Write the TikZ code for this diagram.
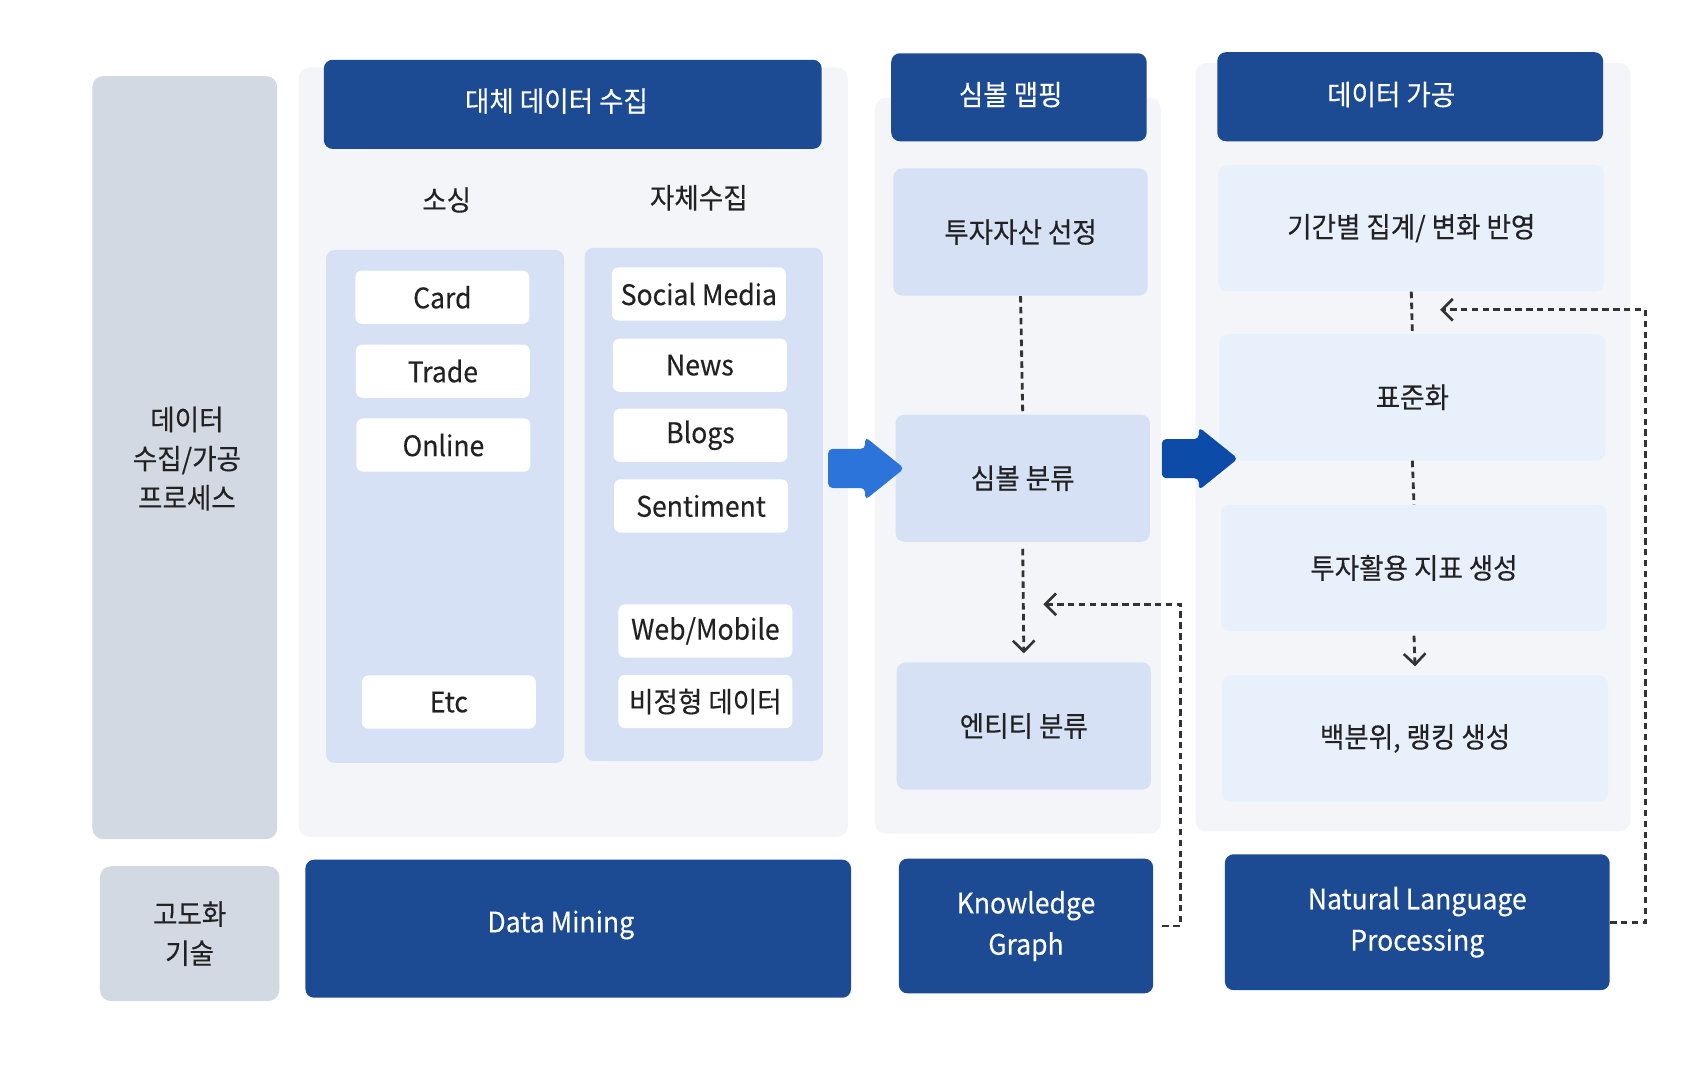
\documentclass[tikz,border=0pt]{standalone}
\usepackage{fontspec}
\setmainfont{Noto Sans CJK KR}[FakeStretch=0.94,FakeBold=0.3]
\usetikzlibrary{arrows.meta}
\definecolor{darkc}{HTML}{1C4A93}
\definecolor{panelc}{HTML}{F4F5F8}
\definecolor{subc}{HTML}{D6E1F5}
\definecolor{lightc}{HTML}{E8F0FC}
\definecolor{grayc}{HTML}{D3D9E3}
\definecolor{textc}{HTML}{222222}
\definecolor{dashc}{HTML}{333333}
\definecolor{arrowa}{HTML}{2C74DA}
\definecolor{arrowb}{HTML}{0C4BA7}
\begin{document}
\begin{tikzpicture}[x=0.5pt,y=-0.5pt,
  bodyfont/.style={font=\fontsize{13}{18}\selectfont},
  panelbox/.style={fill=panelc, rounded corners=5pt, inner sep=0pt},
  graybox/.style={fill=grayc, rounded corners=5pt, inner sep=0pt, text=textc, align=center, bodyfont},
  hdrbox/.style={fill=darkc, rounded corners=4pt, inner sep=0pt},
  hdrtext/.style={text=white, font=\fontsize{13}{19}\selectfont, inner sep=0pt},
  techbox/.style={fill=darkc, rounded corners=4pt, inner sep=0pt, text=white, align=center, font=\fontsize{13}{19}\selectfont},
  subbox/.style={fill=subc, rounded corners=4pt, inner sep=0pt},
  whitebox/.style={fill=white, rounded corners=3pt, inner sep=0pt, minimum width=80pt, minimum height=24.5pt, text=textc, bodyfont},
  stepbox/.style={fill=subc, rounded corners=4pt, inner sep=0pt, minimum width=117pt, minimum height=58.5pt, text=textc, bodyfont},
  procbox/.style={fill=lightc, rounded corners=4pt, inner sep=0pt, minimum width=177.5pt, minimum height=58pt, text=textc, bodyfont},
  lbl/.style={text=textc, bodyfont, inner sep=0pt},
  dashline/.style={draw=dashc, line width=1.3pt, dash pattern=on 3pt off 2pt},
  barb/.style={-{Straight Barb[length=5pt,width=10pt,line width=1.2pt]}}
]
\useasboundingbox[fill=white] (0,0) rectangle (1566,990);

% left labels
\node[graybox, minimum width=85pt, minimum height=351pt] (g1) at (170,421) {};
\node[lbl, align=center] (g1t) at (172,422) {데이터\\수집/가공\\프로세스};
\node[graybox, minimum width=82.5pt, minimum height=62pt] (g2) at (174.5,859) {고도화\\기술};

% panel 1
\node[panelbox, minimum width=252.5pt, minimum height=354pt] (p1) at (527.5,416) {};
\node[hdrbox, minimum width=229pt, minimum height=41pt] (h1) at (527,96) {};
\node[hdrtext] (h1t) at (512,93) {대체 데이터 수집};
\node[lbl] (src) at (411,184) {소싱};
\node[lbl] (own) at (643,182) {자체수집};
\node[subbox, minimum width=109.5pt, minimum height=236pt] (s1) at (409.5,466) {};
\node[subbox, minimum width=109.5pt, minimum height=236pt] (s2) at (647.5,464) {};
\node[whitebox] (card) at (407,273.5) {Card};
\node[whitebox] (trade) at (407.5,341.5) {Trade};
\node[whitebox] (online) at (408,409.5) {Online};
\node[whitebox] (etc) at (413,646) {Etc};
\node[whitebox] (social) at (643,270.5) {Social Media};
\node[whitebox] (news) at (644,336) {News};
\node[whitebox] (blogs) at (644.5,400.5) {Blogs};
\node[whitebox] (senti) at (645,465.5) {Sentiment};
\node[whitebox] (web) at (649,580.5) {Web/Mobile};
\node[whitebox] (unst) at (649,645.5) {비정형 데이터};

% panel 2
\node[panelbox, minimum width=131.5pt, minimum height=338.5pt] (p2) at (936.5,428.5) {};
\node[hdrbox, minimum width=117.5pt, minimum height=40.5pt] (h2) at (937.5,89.5) {};
\node[hdrtext] (h2t) at (930,87) {심볼 맵핑};
\node[stepbox] (b21) at (939,213.5) {투자자산 선정};
\node[stepbox] (b22) at (941,440) {심볼 분류};
\node[stepbox] (b23) at (942,668) {엔티티 분류};

% panel 3
\node[panelbox, minimum width=200pt, minimum height=353.5pt] (p3) at (1300,411.5) {};
\node[hdrbox, minimum width=177.5pt, minimum height=41pt] (h3) at (1297.5,89) {};
\node[hdrtext] (h3t) at (1280,87) {데이터 가공};
\node[procbox] (b31) at (1298.5,210) {기간별 집계/ 변화 반영};
\node[procbox] (b32) at (1299.5,365.5) {표준화};
\node[procbox] (b33) at (1301,522.5) {투자활용 지표 생성};
\node[procbox] (b34) at (1302,679.5) {백분위, 랭킹 생성};

% technology row
\node[hdrbox, minimum width=251pt, minimum height=63.5pt] (dm) at (532,854.5) {};
\node[hdrtext] (dmt) at (516,851) {Data Mining};
\node[techbox, minimum width=117pt, minimum height=62pt] (kg) at (944,852) {Knowledge\\Graph};
\node[techbox, minimum width=177pt, minimum height=62.5pt] (nlp) at (1304,848.5) {Natural Language\\Processing};

% big arrows
\fill[arrowa, rounded corners=2pt] (762,413) -- (796,413) -- (796,402) -- (832,431) -- (796,460) -- (796,449) -- (762,449) -- cycle;
\fill[arrowb, rounded corners=2pt] (1069,404) -- (1103,404) -- (1103,393) -- (1139,422) -- (1103,451) -- (1103,440) -- (1069,440) -- cycle;

% dashed connectors, panel 2
\draw[dashline] (b21.south) -- (b22.north);
\draw[dashline, barb] ([yshift=-3pt]b22.south) -- ([yshift=4pt]b23.north);
\coordinate (kgturn) at (1086,556);
\coordinate (kgend) at (960,556);
\draw[dashline, barb] ([xshift=4pt]kg.east) -| (kgturn) -- (kgend);

% dashed connectors, panel 3
\draw[dashline] (b31.south) -- (b32.north);
\draw[dashline] (b32.south) -- (b33.north);
\draw[dashline, barb] ([yshift=-2pt]b33.south) -- ([yshift=4pt]b34.north);
\coordinate (nlpturn) at (1514,285);
\coordinate (nlpend) at (1325,285);
\draw[dashline, barb] (nlp.east) -| (nlpturn) -- (nlpend);
\end{tikzpicture}
\end{document}
